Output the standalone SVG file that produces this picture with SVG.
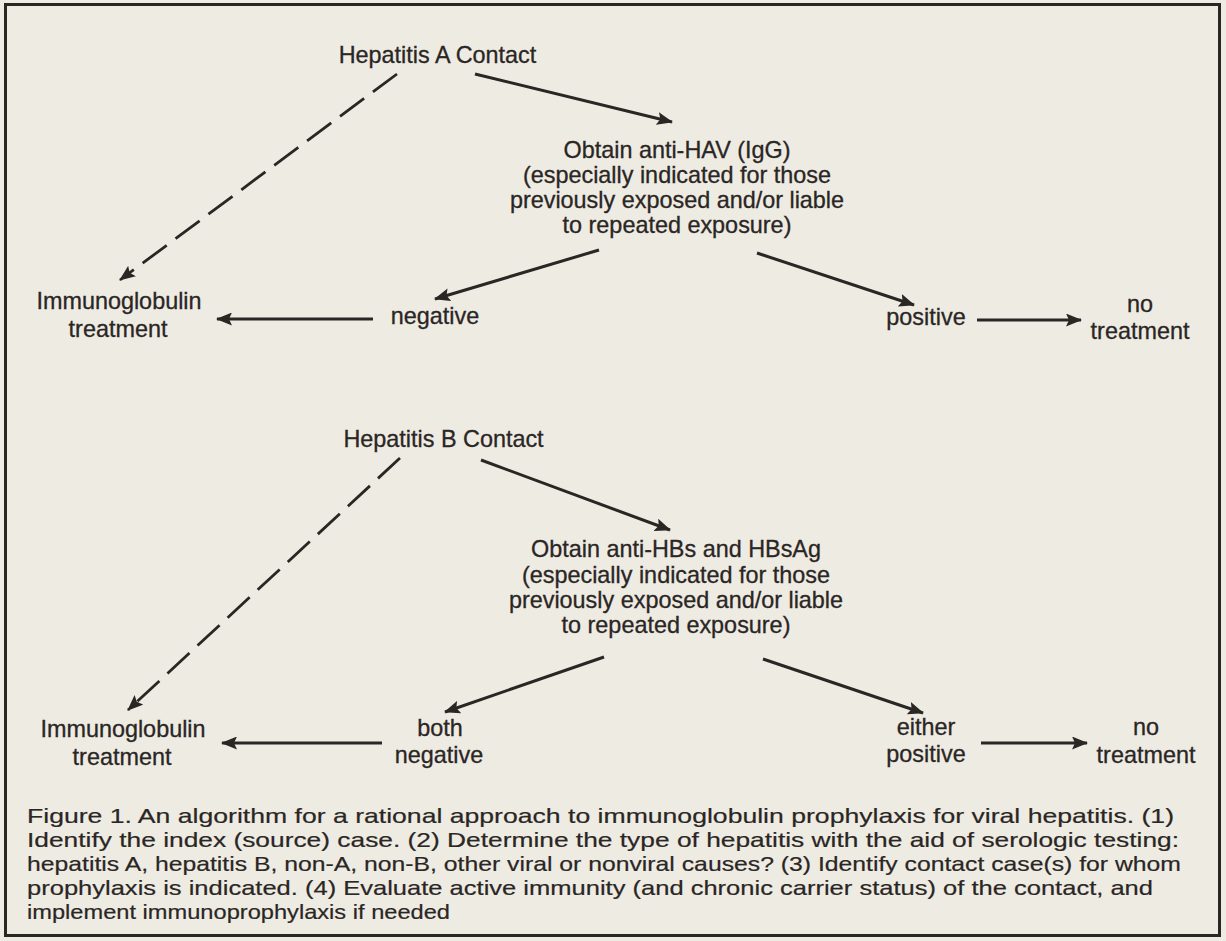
<svg xmlns="http://www.w3.org/2000/svg" width="1226" height="941" viewBox="0 0 1226 941">
<style>
text{font-family:"Liberation Sans",Arial,Helvetica,sans-serif;fill:#2a2624}
.l{font-size:23.4px;text-anchor:middle;stroke:#2a2624;stroke-width:0.3}
.c{font-size:21px;stroke:#2a2624;stroke-width:0.2}
.a{stroke:#2a2624;stroke-width:3;fill:none}
.d{stroke:#2a2624;stroke-width:2.8;fill:none;stroke-dasharray:30 11}
</style>
<defs>
<marker id="ah" viewBox="0 0 16 13" refX="15" refY="6.5" markerWidth="16" markerHeight="13" markerUnits="userSpaceOnUse" orient="auto">
<path d="M0,0 L16,6.5 L0,13 L3,6.5 Z" fill="#2a2624"/>
</marker>
</defs>
<rect x="0" y="0" width="1226" height="941" fill="#eeebe3"/>
<rect x="5.5" y="4.5" width="1214" height="931" fill="none" stroke="#2a2624" stroke-width="3"/>
<g id="connectors">
<line class="d" x1="397" y1="74" x2="120" y2="280" marker-end="url(#ah)"/>
<line class="a" x1="475" y1="74" x2="672" y2="122" marker-end="url(#ah)"/>
<line class="a" x1="599" y1="250" x2="435" y2="299" marker-end="url(#ah)"/>
<line class="a" x1="757" y1="253" x2="914" y2="305" marker-end="url(#ah)"/>
<line class="a" x1="373" y1="319" x2="217" y2="319" marker-end="url(#ah)"/>
<line class="a" x1="977" y1="320" x2="1081" y2="320" marker-end="url(#ah)"/>
<line class="d" x1="400" y1="458" x2="128" y2="710" marker-end="url(#ah)"/>
<line class="a" x1="481" y1="460" x2="670" y2="530" marker-end="url(#ah)"/>
<line class="a" x1="604" y1="657" x2="445" y2="712" marker-end="url(#ah)"/>
<line class="a" x1="763" y1="659" x2="923" y2="713" marker-end="url(#ah)"/>
<line class="a" x1="382" y1="743" x2="222" y2="743" marker-end="url(#ah)"/>
<line class="a" x1="981" y1="743" x2="1087" y2="743" marker-end="url(#ah)"/>
</g>
<g id="hepA"><text class="l" x="437.5" y="63">Hepatitis A Contact</text></g>
<g id="antiHAV">
<text class="l" x="677" y="158">Obtain anti-HAV (IgG)</text>
<text class="l" x="677" y="183">(especially indicated for those</text>
<text class="l" x="677" y="208">previously exposed and/or liable</text>
<text class="l" x="677" y="233">to repeated exposure)</text>
</g>
<g id="igA">
<text class="l" x="119" y="309">Immunoglobulin</text>
<text class="l" x="118" y="337">treatment</text>
</g>
<g id="negA"><text class="l" x="435" y="324">negative</text></g>
<g id="posA"><text class="l" x="926" y="325">positive</text></g>
<g id="noA">
<text class="l" x="1140" y="312">no</text>
<text class="l" x="1140" y="339">treatment</text>
</g>
<g id="hepB"><text class="l" x="443.5" y="447">Hepatitis B Contact</text></g>
<g id="antiHBs">
<text class="l" x="676" y="557">Obtain anti-HBs and HBsAg</text>
<text class="l" x="676" y="583">(especially indicated for those</text>
<text class="l" x="676" y="608">previously exposed and/or liable</text>
<text class="l" x="676" y="633">to repeated exposure)</text>
</g>
<g id="igB">
<text class="l" x="123" y="737">Immunoglobulin</text>
<text class="l" x="122" y="765">treatment</text>
</g>
<g id="negB">
<text class="l" x="440" y="736">both</text>
<text class="l" x="439" y="763">negative</text>
</g>
<g id="posB">
<text class="l" x="926" y="735">either</text>
<text class="l" x="926" y="762">positive</text>
</g>
<g id="noB">
<text class="l" x="1146" y="735">no</text>
<text class="l" x="1146" y="763">treatment</text>
</g>
<g id="caption">
<text class="c" x="27" y="823" textLength="1147" lengthAdjust="spacingAndGlyphs">Figure 1. An algorithm for a rational approach to immunoglobulin prophylaxis for viral hepatitis. (1)</text>
<text class="c" x="27" y="847" textLength="1152" lengthAdjust="spacingAndGlyphs">Identify the index (source) case. (2) Determine the type of hepatitis with the aid of serologic testing:</text>
<text class="c" x="27" y="871" textLength="1154" lengthAdjust="spacingAndGlyphs">hepatitis A, hepatitis B, non-A, non-B, other viral or nonviral causes? (3) Identify contact case(s) for whom</text>
<text class="c" x="27" y="895" textLength="1126" lengthAdjust="spacingAndGlyphs">prophylaxis is indicated. (4) Evaluate active immunity (and chronic carrier status) of the contact, and</text>
<text class="c" x="27" y="919" textLength="423" lengthAdjust="spacingAndGlyphs">implement immunoprophylaxis if needed</text>
</g>
</svg>
